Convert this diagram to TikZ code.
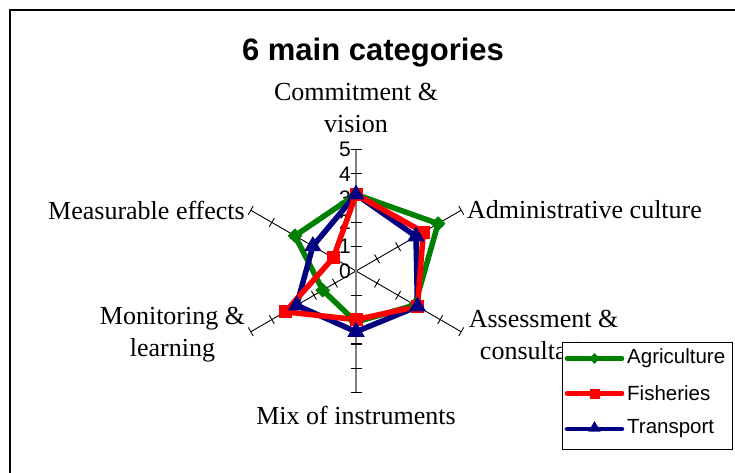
\documentclass[tikz,border=0pt]{standalone}
\usepackage{fontspec}
\setmainfont{Liberation Serif}
\setsansfont{Liberation Sans}
\usetikzlibrary{shapes.geometric,calc}
\definecolor{agri}{RGB}{0,128,0}
\definecolor{fish}{RGB}{255,0,0}
\definecolor{trans}{RGB}{0,0,128}
\definecolor{axgray}{RGB}{128,128,128}
\begin{document}
\begin{tikzpicture}[x=1pt,y=-1pt,
  lbl/.style={font=\fontsize{26}{32}\selectfont, inner sep=0, align=center},
  num/.style={font=\sffamily\fontsize{21}{24}\selectfont, inner sep=0, anchor=east},
  leg/.style={font=\sffamily\fontsize{20.5}{24}\selectfont, inner sep=0, anchor=west},
  series/.style={line width=5.5, line join=round, line cap=round},
  mkA/.style={diamond, fill=agri, inner sep=0, minimum size=15},
  mkF/.style={rectangle, fill=fish, inner sep=0, minimum size=13},
  mkT/.style={regular polygon, regular polygon sides=3, fill=trans, inner sep=0, minimum size=20},
  axisline/.style={line width=0.9, black},
  tickmark/.style={line width=0.9, black},
]
\clip (0,0) rectangle (735,473);
\fill[white] (0,0) rectangle (735,473);
\draw[line width=2.5] (10,10) rectangle (760,500);

% title
\node[font=\sffamily\bfseries\fontsize{31}{36}\selectfont, inner sep=0, anchor=base] (title) at (373,61) {6 main categories};

\def\u{24.3}
\coordinate (O) at (356,271);

% diagonal axes (polar angle = minus visual angle, y is flipped)
\foreach \ang in {-30,30,150,-150}{
  \draw[axisline] (O) -- ++(\ang:5*\u);
  \foreach \k in {1,...,5}{
    \draw[tickmark] ($(O)+(\ang:\k*\u)+(\ang+90:5)$) -- ($(O)+(\ang:\k*\u)+(\ang-90:5)$);
  }
}
% vertical value axis
\draw[axgray, line width=1.8] (356,{271-5*\u}) -- (356,{271+5*\u});
\foreach \k in {1,...,5}{
  \draw[tickmark, line width=1.2] (351,{271-\k*\u}) -- (362,{271-\k*\u});
  \draw[tickmark, line width=1.2] (351,{271+\k*\u}) -- (362,{271+\k*\u});
}
\foreach \k in {0,...,5}{
  \node[num] (n\k) at (351,{271-\k*\u}) {\k};
}

% data points
\foreach \ang/\v [count=\i] in {-90/3.15,-30/3.9,30/2.8,90/2.1,150/1.58,-150/2.9}
  \path (O) ++(\ang:\v*\u) coordinate (A\i);
\foreach \ang/\v [count=\i] in {-90/3.15,-30/3.2,30/2.92,90/2.0,150/3.36,-150/1.08}
  \path (O) ++(\ang:\v*\u) coordinate (F\i);
\foreach \ang/\v [count=\i] in {-90/3.15,-30/2.85,30/2.92,90/2.5,150/2.82,-150/2.05}
  \path (O) ++(\ang:\v*\u) coordinate (T\i);

\draw[series, agri] (A1) -- (A2) -- (A3) -- (A4) -- (A5) -- (A6) -- cycle;
\draw[series, trans] (T1) -- (T2) -- (T3) -- (T4) -- (T5) -- (T6) -- cycle;
\draw[series, fish] (F1) -- (F2) -- (F3) -- (F4) -- (F5) -- (F6) -- cycle;
\foreach \i in {1,...,6}{
  \node[mkA] (mA\i) at (A\i) {};
  \node[mkF] (mF\i) at (F\i) {};
}
\foreach \i in {1,...,6}{
  \node[mkT] (mT\i) at (T\i) {};
}

% category labels
\node[lbl] (c1) at (356,108) {Commitment \&\\vision};
\node[lbl, anchor=west] (c2) at (467,210) {Administrative culture};
\node[lbl] (c3) at (543.5,335) {Assessment \&\\consultation};
\node[lbl] (c4) at (356,415) {Mix of instruments};
\node[lbl] (c5) at (172.5,335) {Monitoring \&\\learning};
\node[lbl, anchor=east] (c6) at (245,210) {Measurable effects};

% legend
\node[draw, fill=white, line width=0.9, inner sep=0, minimum width=170, minimum height=107, anchor=north west] (legend) at (562,341.5) {};
\coordinate (la1) at (567,358.5); \coordinate (la2) at (622,358.5);
\coordinate (lf1) at (567,393.5); \coordinate (lf2) at (622,393.5);
\coordinate (lt1) at (567,429); \coordinate (lt2) at (622,429);
\draw[agri, line width=4.5, line cap=round] (la1) -- (la2);
\draw[fish, line width=4.5, line cap=round] (lf1) -- (lf2);
\draw[trans, line width=4.5, line cap=round] (lt1) -- (lt2);
\node[mkA, minimum size=11] (lma) at (594.5,358.5) {};
\node[mkF, minimum size=10] (lmf) at (594.5,393.5) {};
\node[mkT, minimum size=14] (lmt) at (594.5,428) {};
\node[leg] (ta) at (627,358.5) {Agriculture};
\node[leg] (tf) at (627,393.5) {Fisheries};
\node[leg] (tt) at (627,429) {Transport};
\end{tikzpicture}
\end{document}
